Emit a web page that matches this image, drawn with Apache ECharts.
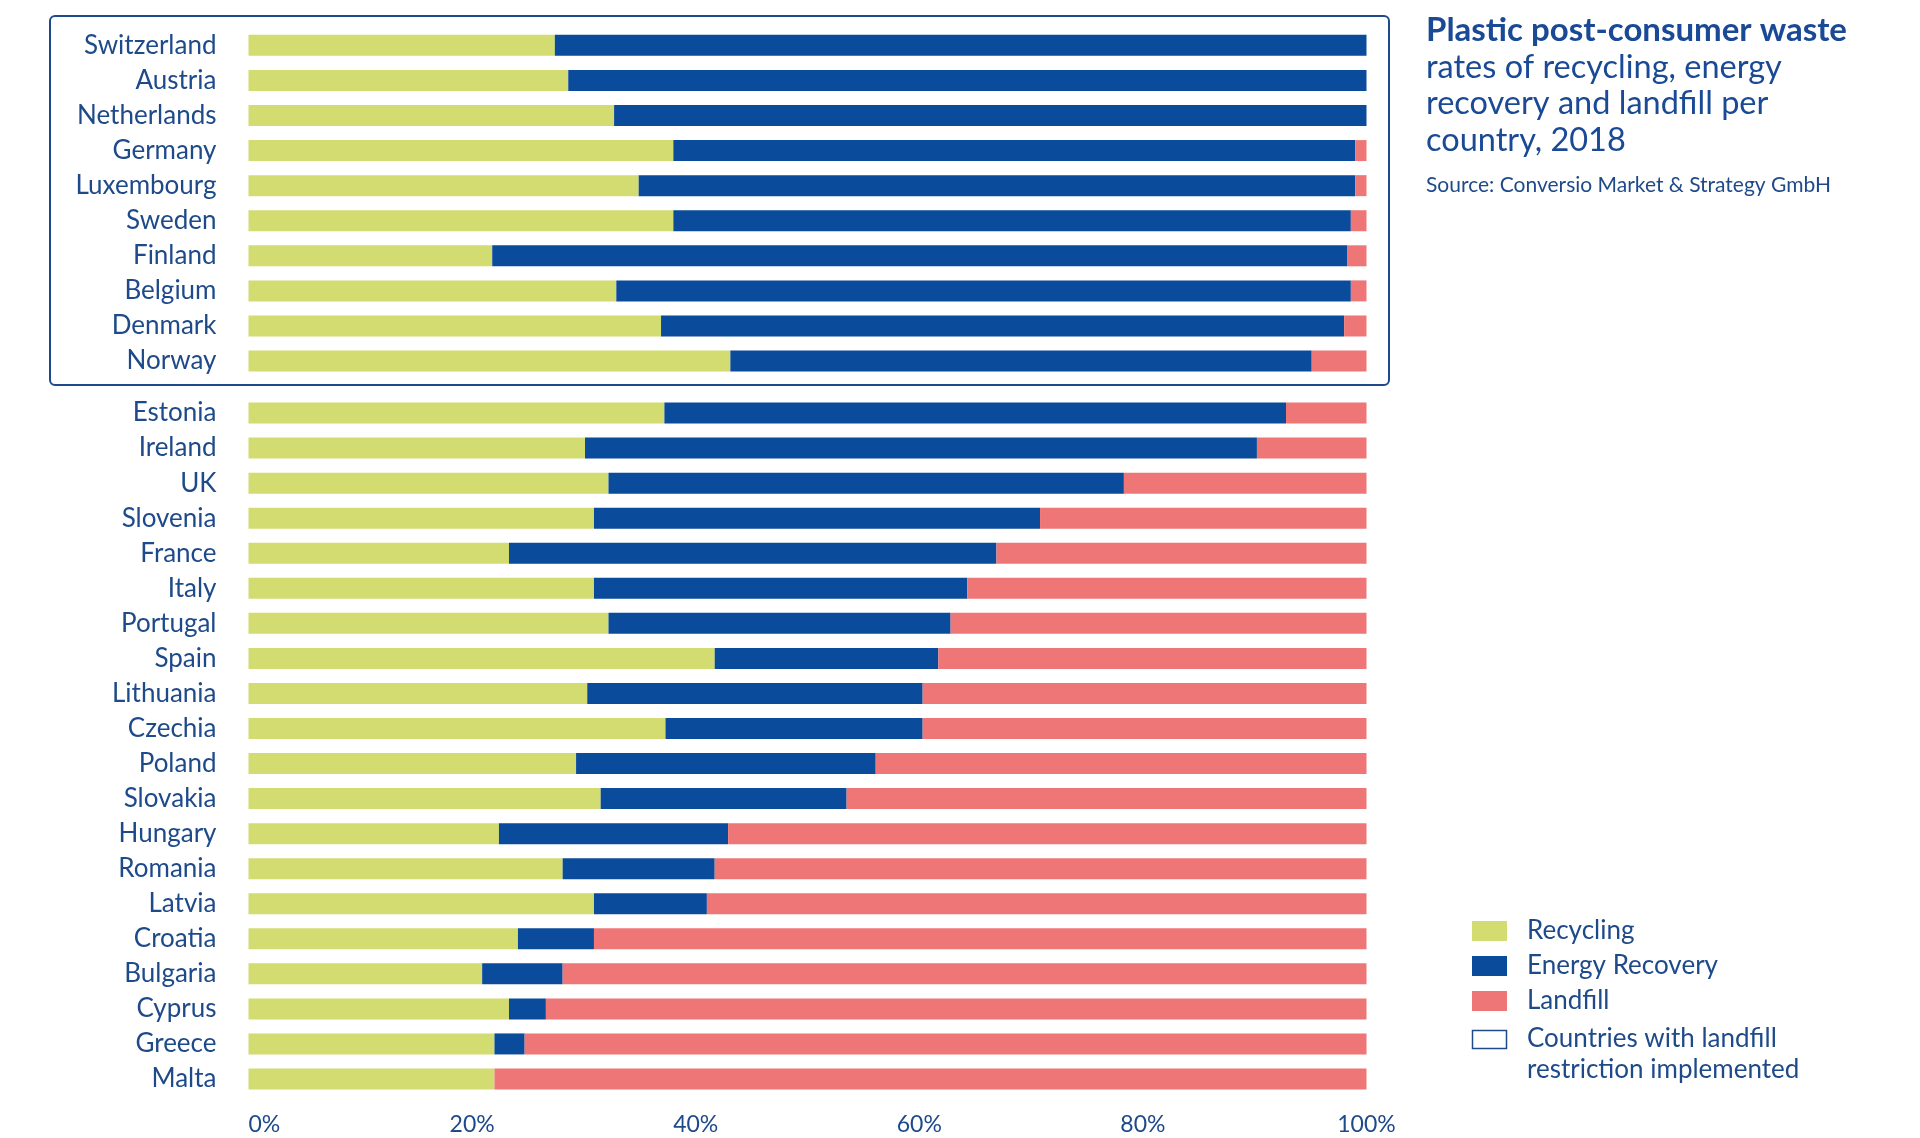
<!DOCTYPE html>
<html>
<head>
<meta charset="utf-8">
<script src="https://cdn.jsdelivr.net/npm/echarts@6/dist/echarts.min.js"></script>
<style>
html,body{margin:0;padding:0;background:#fff;}
#chart{width:1920px;height:1138px;}
</style>
</head>
<body>
<div id="chart"></div>
<script>
// ---- data ----
const countries = ['Switzerland','Austria','Netherlands','Germany','Luxembourg','Sweden','Finland','Belgium','Denmark','Norway',
  'Estonia','Ireland','UK','Slovenia','France','Italy','Portugal','Spain','Lithuania','Czechia',
  'Poland','Slovakia','Hungary','Romania','Latvia','Croatia','Bulgaria','Cyprus','Greece','Malta'];
const recycling = [27.4,28.6,32.7,38.0,34.9,38.0,21.8,32.9,36.9,43.1,
  37.2,30.1,32.2,30.9,23.3,30.9,32.2,41.7,30.3,37.3,
  29.3,31.5,22.4,28.1,30.9,24.1,20.9,23.3,22.0,22.0];
const energyRecovery = [72.6,71.4,67.3,61.0,64.1,60.6,76.5,65.7,61.1,52.0,
  55.6,60.1,46.1,39.9,43.6,33.4,30.6,20.0,30.0,23.0,
  26.8,22.0,20.5,13.6,10.1,6.8,7.2,3.3,2.7,0];
const landfill = [0,0,0,1.0,1.0,1.4,1.7,1.4,2.0,4.9,
  7.2,9.8,21.7,29.2,33.1,35.7,37.2,38.3,39.7,39.7,
  43.9,46.5,57.1,58.3,59.0,69.1,71.9,73.4,75.3,78.0];
const restrictedCount = 10; // first 10 countries: landfill restriction implemented
const xTicks = [0,20,40,60,80,100];

const seriesNames = ['Recycling','Energy Recovery','Landfill'];
const seriesData = [recycling, energyRecovery, landfill];
const colors = ['#d2dc70','#0b4b9b','#ee7676'];
const textColor = '#1e4a8a';
const font = 'Lato, "Noto Sans", sans-serif';

const groupA = countries.slice(0, restrictedCount);
const groupB = countries.slice(restrictedCount);

const chart = echarts.init(document.getElementById('chart'), null, {renderer:'canvas'});

const series = [];
[0,1].forEach(g => {
  seriesNames.forEach((name, i) => {
    const vals = g === 0 ? seriesData[i].slice(0, restrictedCount) : seriesData[i].slice(restrictedCount);
    series.push({
      name: name,
      type: 'bar',
      stack: 'g' + g,
      xAxisIndex: g,
      yAxisIndex: g,
      barWidth: 21,
      itemStyle: {color: colors[i]},
      emphasis: {disabled: true},
      data: vals
    });
  });
});

const yAxisCommon = {
  type: 'category',
  inverse: true,
  axisLine: {show: false},
  axisTick: {show: false},
  splitLine: {show: false},
  axisLabel: {fontSize: 26, color: textColor, fontFamily: font, margin: 32}
};

chart.setOption({
  backgroundColor: '#ffffff',
  animation: false,
  title: [
    {text: 'Plastic post-consumer waste', left: 1426, top: 12, padding: 0,
     textStyle: {fontSize: 33, fontWeight: 'bold', color: '#1a4a95', fontFamily: font, lineHeight: 36}},
    {text: 'rates of recycling, energy\nrecovery and landfill per\ncountry, 2018', left: 1426, top: 49, padding: 0,
     textStyle: {fontSize: 32.5, fontWeight: 'normal', color: '#1a4a95', fontFamily: font, lineHeight: 36.5}},
    {text: 'Source: Conversio Market & Strategy GmbH', left: 1426, top: 172, padding: 0,
     textStyle: {fontSize: 21, fontWeight: 'normal', color: textColor, fontFamily: font, lineHeight: 26}}
  ],
  legend: {
    orient: 'vertical',
    left: 1472,
    top: 918,
    padding: 0,
    itemWidth: 35,
    itemHeight: 20,
    itemGap: 9,
    icon: 'rect',
    selectedMode: false,
    data: seriesNames,
    textStyle: {fontSize: 26, color: textColor, fontFamily: font, lineHeight: 26, padding: [0,0,0,15]}
  },
  grid: [
    {left: 248.5, width: 1118, top: 27.8, height: 350.8},
    {left: 248.5, width: 1118, top: 395.5, height: 701}
  ],
  xAxis: [
    {type: 'value', gridIndex: 0, min: 0, max: 100, interval: 20, show: false, splitLine: {show: false}},
    {type: 'value', gridIndex: 1, min: xTicks[0], max: xTicks[xTicks.length-1], interval: 20,
     axisLine: {show: false}, axisTick: {show: false}, splitLine: {show: false},
     axisLabel: {formatter: '{value}%', fontSize: 23, color: textColor, fontFamily: font, margin: 17, alignMinLabel: 'left'}}
  ],
  yAxis: [
    Object.assign({gridIndex: 0, data: groupA}, yAxisCommon),
    Object.assign({gridIndex: 1, data: groupB}, yAxisCommon)
  ],
  series: series,
  graphic: [
    {type: 'rect', shape: {x: 50, y: 16, width: 1339, height: 369, r: 5}, silent: true,
     style: {fill: 'none', stroke: '#1e4a8a', lineWidth: 2}},
    {type: 'rect', shape: {x: 1472.5, y: 1030.5, width: 34, height: 18}, silent: true,
     style: {fill: '#ffffff', stroke: '#1e4a8a', lineWidth: 1.5}},
    {type: 'text', left: 1527, top: 1023, silent: true,
     style: {text: 'Countries with landfill\nrestriction implemented', fontSize: 26, lineHeight: 31,
             fill: textColor, fontFamily: font}}
  ]
});
</script>
</body>
</html>
